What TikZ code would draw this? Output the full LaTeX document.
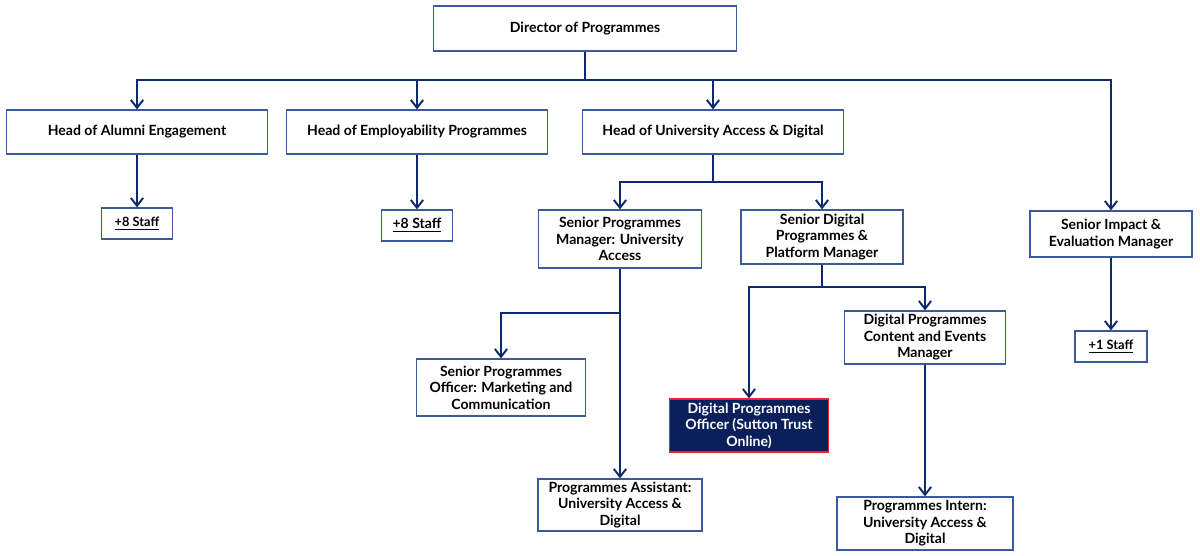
\documentclass[tikz,border=0pt]{standalone}
\usepackage{fontspec}
\setmainfont{Lato}
\usetikzlibrary{arrows.meta}
\definecolor{navy}{HTML}{0D2A6B}
\definecolor{boxblue}{HTML}{3A5A9A}
\definecolor{darkfill}{HTML}{0B1F5B}
\definecolor{hired}{HTML}{E8232B}
\tikzset{
  box/.style={draw=boxblue, line width=0.7pt, fill=white, align=center, inner sep=1pt,
    font=\bfseries\fontsize{8}{9.4}\selectfont},
  staffbox/.style={box, font=\bfseries\fontsize{7.3}{8}\selectfont},
  line/.style={draw=navy, line width=1.1pt},
  arr/.style={line, -{Straight Barb[length=4.5pt,width=7pt]}}
}

\begin{document}
\begin{tikzpicture}[x=0.02cm, y=-0.02cm]
    \useasboundingbox (0,0) rectangle (1200,555);

    % top level
    \node[box, minimum width=6.06cm, minimum height=0.9cm] (dir) at (585,28.5) {Director of Programmes};

    % heads
    \node[box, minimum width=5.22cm, minimum height=0.88cm] (alumni) at (137,132) {Head of Alumni Engagement};
    \node[box, minimum width=5.22cm, minimum height=0.88cm] (employ) at (417,132) {Head of Employability Programmes};
    \node[box, minimum width=5.22cm, minimum height=0.88cm] (uad) at (713,132) {Head of University Access \& Digital};
    \node[box, minimum width=3.24cm, minimum height=0.92cm] (impact) at (1111,234) {Senior Impact \&\\Evaluation Manager};

    % staff counts
    \node[staffbox, minimum width=1.42cm, minimum height=0.62cm] (staffa) at (137,223.5) {\underline{+8 Staff}};
    \node[box, minimum width=1.42cm, minimum height=0.62cm] (staffb) at (417,225.5) {\underline{+8 Staff}};
    \node[staffbox, minimum width=1.44cm, minimum height=0.62cm] (staffc) at (1111,346.5) {\underline{+1 Staff}};

    % university access & digital team
    \node[box, minimum width=3.26cm, minimum height=1.16cm] (spm) at (620,239) {Senior Programmes\\Manager: University\\Access};
    \node[box, minimum width=3.24cm, minimum height=1.08cm] (sdp) at (822,237) {Senior Digital\\Programmes \&\\Platform Manager};
    \node[box, minimum width=3.38cm, minimum height=1.14cm] (spo) at (501,387.5) {Senior Programmes\\Officer: Marketing and\\Communication};
    \node[box, minimum width=3.28cm, minimum height=1.04cm] (pa) at (620,505) {Programmes Assistant:\\University Access \&\\Digital};
    \node[box, draw=hired, fill=darkfill, text=white, minimum width=3.18cm, minimum height=1.06cm] (dpo) at (749,425.5) {Digital Programmes\\Officer (Sutton Trust\\Online)};
    \node[box, minimum width=3.22cm, minimum height=1.06cm] (dpc) at (925,337.5) {Digital Programmes\\Content and Events\\Manager};
    \node[box, minimum width=3.52cm, minimum height=1.06cm] (intern) at (925,523.5) {Programmes Intern:\\University Access \&\\Digital};

    % junctions
    \coordinate (dirbus) at (585,80);
    \coordinate (uadbus) at (713,182);
    \coordinate (spmbus) at (620,313);
    \coordinate (sdpbus) at (822,287);

    \draw[line] (dir.south) -- (dirbus);
    \draw[arr] (dirbus) -| (alumni.north);
    \draw[arr] (dirbus) -| (employ.north);
    \draw[arr] (dirbus) -| (uad.north);
    \draw[arr] (dirbus) -| (impact.north);

    \draw[arr] (alumni.south) -- (staffa.north);
    \draw[arr] (employ.south) -- (staffb.north);
    \draw[arr] (impact.south) -- (staffc.north);

    \draw[line] (uad.south) -- (uadbus);
    \draw[arr] (uadbus) -| (spm.north);
    \draw[arr] (uadbus) -| (sdp.north);

    \draw[arr] (spm.south) -- (pa.north);
    \draw[arr] (spmbus) -| (spo.north);

    \draw[line] (sdp.south) -- (sdpbus);
    \draw[arr] (sdpbus) -| (dpo.north);
    \draw[arr] (sdpbus) -| (dpc.north);

    \draw[arr] (dpc.south) -- (intern.north);

\end{tikzpicture}
\end{document}
